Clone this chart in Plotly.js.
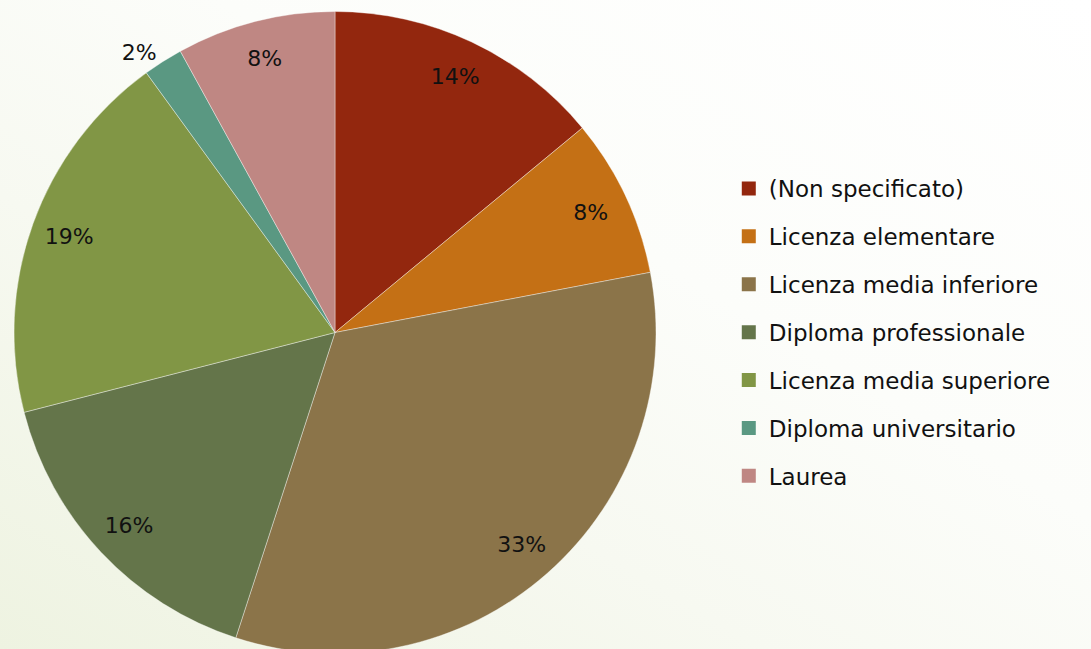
<!DOCTYPE html>
<html>
<head>
<meta charset="utf-8">
<script src="https://cdn.plot.ly/plotly-3.0.1.min.js"></script>
<style>
html, body { margin: 0; padding: 0; overflow: hidden; width: 1091px; height: 649px; }
body { background: linear-gradient(to top right, #eef3e1 0%, #f7f9f1 35%, #fcfdfa 60%, #ffffff 100%); }
#chart { width: 1091px; height: 654px; }
</style>
</head>
<body>
<div id="chart"></div>
<script>
const categories = ["(Non specificato)", "Licenza elementare", "Licenza media inferiore", "Diploma professionale", "Licenza media superiore", "Diploma universitario", "Laurea"];
const shares = [14, 8, 33, 16, 19, 2, 8];
const colors = ["#93270e", "#c47015", "#8b7449", "#64754a", "#819645", "#5a9882", "#bf8783"];
const labelPositions = ["inside", "inside", "inside", "inside", "inside", "outside", "inside"];

const fontFamily = "DejaVu Sans, sans-serif";
const pieDomain = { x: [14 / 1091, 656 / 1091], y: [0, 1] };

const pieTrace = {
  type: "pie",
  labels: categories,
  values: shares,
  sort: false,
  direction: "clockwise",
  rotation: 0,
  marker: { colors: colors, line: { color: "rgba(255,255,255,0.55)", width: 0.7 } },
  textinfo: "none",
  domain: pieDomain,
  showlegend: false,
  hoverinfo: "label+percent"
};

// transparent ring on top of the pie, only to carry the percentage labels near the rim
const labelRing = {
  type: "pie",
  labels: categories,
  values: shares,
  sort: false,
  direction: "clockwise",
  rotation: 0,
  hole: 0.76,
  marker: { colors: categories.map(() => "rgba(0,0,0,0)"), line: { width: 0 } },
  textinfo: "percent",
  textposition: labelPositions,
  insidetextorientation: "horizontal",
  textfont: { family: fontFamily, size: 22, color: "#111111" },
  outsidetextfont: { family: fontFamily, size: 22, color: "#111111" },
  domain: pieDomain,
  showlegend: false,
  hoverinfo: "skip"
};

const legendTraces = categories.map((c, i) => ({
  type: "scatter",
  mode: "markers",
  x: [null],
  y: [null],
  name: c,
  legendgroup: "g" + i,
  marker: { symbol: "square", size: 14, color: colors[i] },
  showlegend: true,
  hoverinfo: "skip"
}));

const layout = {
  width: 1091,
  height: 654,
  margin: { l: 0, r: 0, t: 11, b: 0 },
  paper_bgcolor: "rgba(0,0,0,0)",
  plot_bgcolor: "rgba(0,0,0,0)",
  xaxis: { visible: false },
  yaxis: { visible: false },
  showlegend: true,
  legend: {
    x: 0.668,
    xanchor: "left",
    y: 0.5,
    yanchor: "middle",
    font: { family: fontFamily, size: 23, color: "#111111" },
    tracegroupgap: 15,
    bgcolor: "rgba(0,0,0,0)",
    itemclick: false
  }
};

Plotly.newPlot("chart", [pieTrace, labelRing, ...legendTraces], layout, { displayModeBar: false, staticPlot: true });
</script>
</body>
</html>
